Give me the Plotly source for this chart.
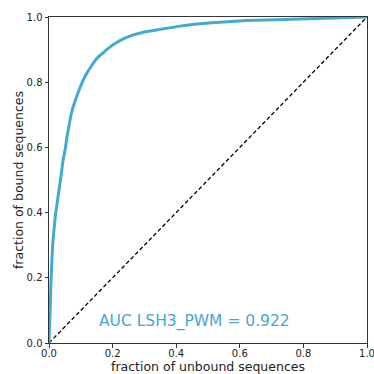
import plotly.graph_objects as go

fpr = [0.0, 0.001, 0.003, 0.006, 0.009, 0.012, 0.016, 0.020, 0.025, 0.030, 0.036, 0.045, 0.051,
       0.057, 0.064, 0.070, 0.078, 0.087, 0.097, 0.108, 0.12, 0.135, 0.150, 0.170, 0.190,
       0.213, 0.239, 0.265, 0.30, 0.349, 0.412, 0.475, 0.55, 0.62, 0.685, 0.79, 0.9, 1.0]
tpr = [0.0, 0.04, 0.08, 0.183, 0.25, 0.306, 0.35, 0.39, 0.425, 0.46, 0.50, 0.565, 0.595,
       0.635, 0.672, 0.703, 0.73, 0.756, 0.782, 0.807, 0.83, 0.852, 0.873, 0.89, 0.907,
       0.922, 0.935, 0.945, 0.954, 0.962, 0.972, 0.979, 0.985, 0.989, 0.991, 0.994, 0.997, 1.0]
diag = [0.0, 1.0]
auc_label = "AUC LSH3_PWM = 0.922"
tick_vals = [0.0, 0.2, 0.4, 0.6, 0.8, 1.0]

color = "#42a9cf"
fig = go.Figure()
fig.add_trace(go.Scatter(x=diag, y=diag, mode="lines",
                         line=dict(color="black", width=1.3, dash="4px,2.5px"), showlegend=False))
fig.add_trace(go.Scatter(x=fpr, y=tpr, mode="lines", line_shape="spline",
                         line=dict(color=color, width=3, smoothing=0.6), showlegend=False))
fig.add_annotation(x=0.456, y=0.065, xref="x", yref="y", text=auc_label, showarrow=False,
                   font=dict(family="DejaVu Sans", size=15.5, color=color))

axis_common = dict(range=[0, 1], showgrid=False, zeroline=False, showline=True, mirror=True,
                   linecolor="#333333", linewidth=1, ticks="outside", ticklen=3.5,
                   tickcolor="#333333", tickvals=tick_vals, tickformat=".1f", automargin=False,
                   ticklabeloverflow="allow",
                   tickfont=dict(family="DejaVu Sans", size=10, color="#222222"))
fig.update_xaxes(**axis_common, ticklabelstandoff=-3,
                 title=dict(text="fraction of unbound sequences",
                            font=dict(family="DejaVu Sans", size=12.5, color="#222222"), standoff=5))
fig.update_yaxes(**axis_common, title=dict(text="fraction of bound sequences",
                 font=dict(family="DejaVu Sans", size=12.5, color="#222222"), standoff=0))
fig.update_layout(width=374, height=374, margin=dict(l=49, r=7, t=17, b=31),
                  plot_bgcolor="white", paper_bgcolor="white")
fig.write_html("out.html", config={"displayModeBar": False},
               post_script="document.body.style.margin='0';document.body.style.overflow='hidden';")
